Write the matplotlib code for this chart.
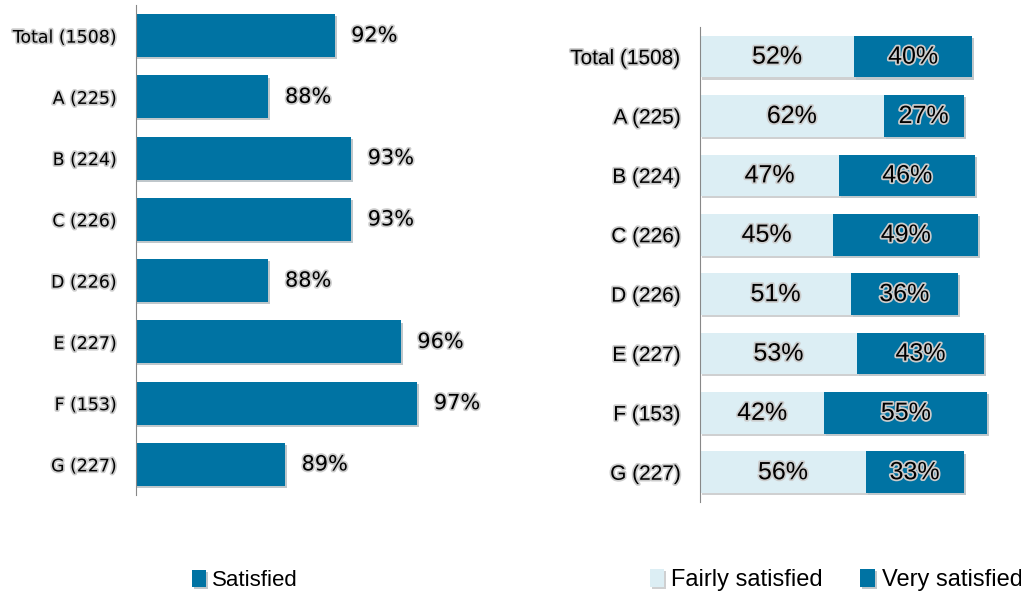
import matplotlib
matplotlib.use('Agg')
import matplotlib.pyplot as plt
import matplotlib.patheffects as pe

categories = ['Total (1508)', 'A (225)', 'B (224)', 'C (226)', 'D (226)',
              'E (227)', 'F (153)', 'G (227)']
satisfied = [92, 88, 93, 93, 88, 96, 97, 89]
fairly = [52, 62, 47, 45, 51, 53, 42, 56]
very = [40, 27, 46, 49, 36, 43, 55, 33]

dark = '#0073A3'
light = '#DCEEF4'
glow = [pe.withStroke(linewidth=2.5, foreground='#cccccc')]
shadow = [pe.SimplePatchShadow(offset=(1.5, -1.5), alpha=0.25), pe.Normal()]
narrow = ['Liberation Sans Narrow', 'Liberation Sans', 'DejaVu Sans']

plt.rcParams['font.family'] = ['Liberation Sans', 'DejaVu Sans']

fig = plt.figure(figsize=(10.21, 5.99), dpi=100)
ax1 = fig.add_axes([0.1332, 0.1736, 0.3565, 0.818])
ax2 = fig.add_axes([0.6856, 0.162, 0.29, 0.793])

pos = range(len(categories))

# left panel: satisfied
bars = ax1.barh(pos, satisfied, height=0.7, color=dark, label='Satisfied')
for b in bars:
    b.set_path_effects(shadow)
ax1.set_xlim(80, 102)
ax1.set_ylim(len(categories) - 0.5, -0.5)
for i, v in enumerate(satisfied):
    ax1.annotate('%d%%' % v, (v, i), xytext=(12, 0), textcoords='offset points',
                 va='center', ha='left', fontsize=15, family='DejaVu Sans',
                 path_effects=glow)
ax1.set_yticks(list(pos))
ax1.set_yticklabels(categories, fontsize=12.5, family='DejaVu Sans')
for t in ax1.get_yticklabels():
    t.set_path_effects(glow)
ax1.set_xticks([])
ax1.tick_params(axis='y', length=0, pad=14)
for s in ['top', 'right', 'bottom']:
    ax1.spines[s].set_visible(False)
ax1.spines['left'].set_color('#888888')
ax1.legend(loc='center', bbox_to_anchor=(0.3, -0.175), frameon=False,
           prop={'family': narrow, 'size': 16}, handlelength=0.6,
           handleheight=0.8, handletextpad=0.3)

# right panel: fairly + very satisfied
b1 = ax2.barh(pos, fairly, height=0.7, color=light, label='Fairly satisfied')
b2 = ax2.barh(pos, very, left=fairly, height=0.7, color=dark, label='Very satisfied')
for b in list(b1) + list(b2):
    b.set_path_effects(shadow)
ax2.set_xlim(0, 100)
ax2.set_ylim(len(categories) - 0.5, -0.5)
for i in pos:
    ax2.text(fairly[i] / 2, i, '%d%%' % fairly[i], ha='center', va='center',
             fontsize=18, path_effects=glow)
    ax2.text(fairly[i] + very[i] / 2, i, '%d%%' % very[i], ha='center',
             va='center', fontsize=18, path_effects=glow)
ax2.set_yticks(list(pos))
ax2.set_yticklabels(categories, fontsize=15)
for t in ax2.get_yticklabels():
    t.set_path_effects(glow)
ax2.set_xticks([])
ax2.tick_params(axis='y', length=0, pad=14)
for s in ['top', 'right', 'bottom']:
    ax2.spines[s].set_visible(False)
ax2.spines['left'].set_color('#888888')
ax2.legend(loc='center', bbox_to_anchor=(0.46, -0.165), frameon=False, ncol=2,
           prop={'family': narrow, 'size': 17}, handlelength=0.6,
           handleheight=0.8, handletextpad=0.3, columnspacing=1.6)

plt.savefig('out.png', dpi=100)
